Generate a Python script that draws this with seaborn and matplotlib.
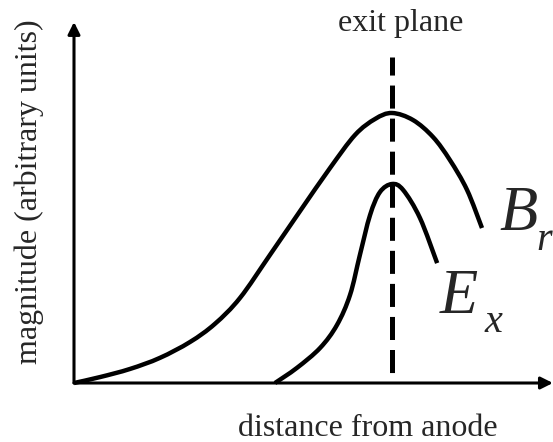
import matplotlib
matplotlib.use("Agg")
import matplotlib.pyplot as plt
from matplotlib.path import Path
from matplotlib.patches import PathPatch
import seaborn as sns
import pandas as pd

# Schematic profiles along the channel (arbitrary units, exit plane at x = 10)
br_x = [0.0, 0.82, 1.76, 2.70, 3.65, 4.43, 5.22, 6.16, 7.11, 8.05, 8.84, 9.47,
        10.0, 10.66, 11.29, 11.82, 12.36, 12.83]
br_y = [0.0, 0.022, 0.052, 0.093, 0.152, 0.219, 0.315, 0.474, 0.637, 0.796,
        0.919, 0.978, 1.0, 0.974, 0.911, 0.826, 0.715, 0.574]

ex_x = [6.32, 7.01, 7.74, 8.27, 8.68, 8.99, 9.31, 9.62, 10.0,
        10.35, 10.88, 11.42]
ex_y = [0.0, 0.056, 0.130, 0.215, 0.326, 0.474, 0.622, 0.707, 0.737,
        0.715, 0.611, 0.444]

exit_plane_x = 10.0
exit_plane_span = [1.207, 0.0185]


def smooth_path(xs, ys):
    """Cubic Bezier path through every point (Catmull-Rom tangents)."""
    pts = list(zip(xs, ys))
    n = len(pts)
    verts = [pts[0]]
    codes = [Path.MOVETO]
    for i in range(n - 1):
        p0 = pts[max(i - 1, 0)]
        p1 = pts[i]
        p2 = pts[i + 1]
        p3 = pts[min(i + 2, n - 1)]
        c1 = (p1[0] + (p2[0] - p0[0]) / 6.0, p1[1] + (p2[1] - p0[1]) / 6.0)
        c2 = (p2[0] - (p3[0] - p1[0]) / 6.0, p2[1] - (p3[1] - p1[1]) / 6.0)
        verts += [c1, c2, p2]
        codes += [Path.CURVE4] * 3
    return Path(verts, codes)


sns.set_theme(style="white")
plt.rcParams["font.family"] = ["Liberation Serif", "DejaVu Serif"]
plt.rcParams["lines.scale_dashes"] = False

fig = plt.figure(figsize=(5.53, 4.42), dpi=100)
ax = fig.add_axes([0, 0, 1, 1])
ax.set_xlim(-2.327, 15.063)
ax.set_ylim(-0.2185, 1.4185)
ax.axis("off")

# field profiles
for xs, ys in [(br_x, br_y), (ex_x, ex_y)]:
    ax.add_patch(PathPatch(smooth_path(xs, ys), fill=False, edgecolor="black",
                           linewidth=3.2, capstyle="butt", joinstyle="round"))

# exit plane marker, dashed from the top down
plane = pd.DataFrame({"x": [exit_plane_x, exit_plane_x], "y": exit_plane_span})
sns.lineplot(data=plane, x="x", y="y", ax=ax, sort=False, estimator=None,
             color="black", linewidth=3.6, linestyle=(3.6, (16.6, 7.2)))
ax.lines[-1].set_dash_capstyle("butt")

# axes drawn as arrows
arrow = dict(arrowstyle="-|>", color="black", lw=2.2, mutation_scale=18,
             shrinkA=0, shrinkB=0)
ax.annotate("", xy=(0, 1.337), xytext=(0, 0), arrowprops=arrow)
ax.annotate("", xy=(15.06, 0), xytext=(0, 0), arrowprops=arrow)

ax.text(10.28, 1.304, "exit plane", fontsize=23, ha="center", va="baseline")
ax.text(9.25, -0.197, "distance from anode", fontsize=23, ha="center",
        va="baseline")
ax.text(-1.415, 0.707, "magnitude (arbitrary units)", fontsize=23,
        rotation=90, ha="center", va="center")

# curve labels: italic symbol with a dropped subscript
sym = dict(fontsize=45, fontstyle="italic", ha="left", va="baseline")
sub = dict(fontsize=29, fontstyle="italic", ha="left", va="baseline")
ax.text(13.38, 0.567, "B", **sym)
ax.text(14.53, 0.493, "r", **sub)
ax.text(11.51, 0.259, "E", **sym)
ax.text(12.92, 0.189, "x", **sub)

fig.savefig("out.png", dpi=100)
